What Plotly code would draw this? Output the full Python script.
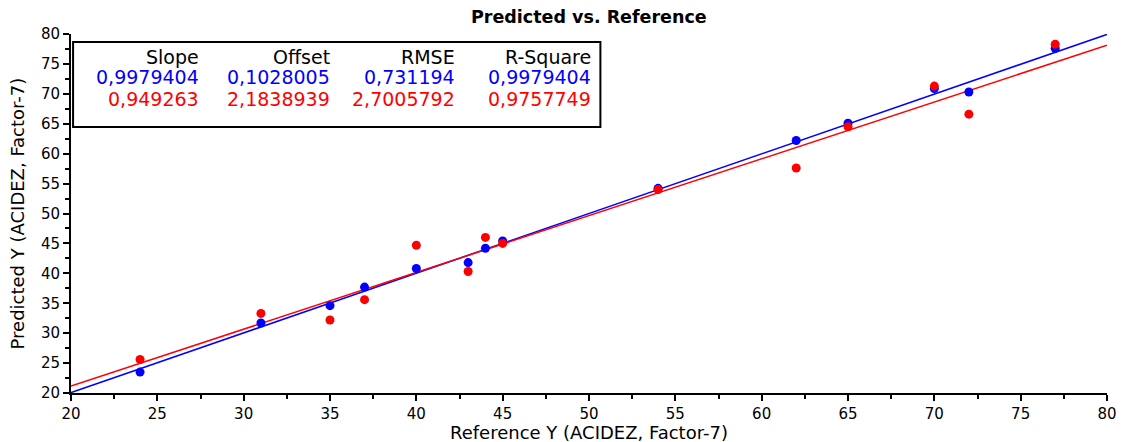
import plotly.graph_objects as go

reference = [24, 31, 35, 37, 40, 43, 44, 45, 54, 62, 65, 70, 72, 77]
pred_blue = [23.5, 31.7, 34.6, 37.7, 40.8, 41.8, 44.2, 45.4, 54.2, 62.2, 65.1, 70.9, 70.3, 77.6]
pred_red = [25.6, 33.3, 32.2, 35.6, 44.7, 40.3, 46.0, 45.0, 54.0, 57.6, 64.5, 71.3, 66.6, 78.3]

stats_header = ["Slope", "Offset", "RMSE", "R-Square"]
stats_blue = ["0,9979404", "0,1028005", "0,731194", "0,9979404"]
stats_red = ["0,949263", "2,1838939", "2,7005792", "0,9757749"]
slope_blue, offset_blue = 0.9979404, 0.1028005
slope_red, offset_red = 0.949263, 2.1838939

title_text = "Predicted vs. Reference"
x_title = "Reference Y (ACIDEZ, Factor-7)"
y_title = "Predicted Y (ACIDEZ, Factor-7)"

x_range = [20, 80]
y_range = [20, 80]

BLUE = "#0000ff"
RED = "#ff0000"
FONT = "DejaVu Sans, Verdana, sans-serif"

fig = go.Figure()
fig.add_trace(go.Scatter(x=x_range, y=[slope_blue * v + offset_blue for v in x_range],
                         mode="lines", line=dict(color=BLUE, width=1.5), showlegend=False))
fig.add_trace(go.Scatter(x=x_range, y=[slope_red * v + offset_red for v in x_range],
                         mode="lines", line=dict(color=RED, width=1.5), showlegend=False))
fig.add_trace(go.Scatter(x=reference, y=pred_blue, mode="markers",
                         marker=dict(color=BLUE, size=9), showlegend=False))
fig.add_trace(go.Scatter(x=reference, y=pred_red, mode="markers",
                         marker=dict(color=RED, size=9), showlegend=False))

col_x = [0.1236, 0.25, 0.3707, 0.5019]
row_y = [0.936, 0.880, 0.819]
row_colors = ["black", BLUE, RED]
annotations = []
for r, (row, col) in enumerate(zip([stats_header, stats_blue, stats_red], row_colors)):
    for c, txt in enumerate(row):
        annotations.append(dict(x=col_x[c], y=row_y[r], xref="paper", yref="paper",
                                text=txt, showarrow=False, xanchor="right", yanchor="middle",
                                xshift=2,
                                font=dict(family=FONT, size=19, color=col)))

# title and axis titles as annotations for precise placement
annotations.append(dict(x=0.5, y=(393 - 17) / 359, xref="paper", yref="paper",
                        text="<b>" + title_text + "</b>",
                        showarrow=False, xanchor="center", yanchor="middle",
                        font=dict(family=FONT, size=17.5, color="black")))
annotations.append(dict(x=0.5, y=-0.1114, xref="paper", yref="paper", text=x_title,
                        showarrow=False, xanchor="center", yanchor="middle",
                        font=dict(family=FONT, size=18, color="black")))
annotations.append(dict(x=-0.0512, y=0.5, xref="paper", yref="paper", text=y_title,
                        showarrow=False, xanchor="center", yanchor="middle", textangle=-90,
                        font=dict(family=FONT, size=18, color="black")))

axis_common = dict(showgrid=False, zeroline=False, showline=True, linecolor="black", linewidth=2,
                   ticks="outside", ticklen=6, tickwidth=2, tickcolor="black", dtick=5,
                   automargin=False,
                   tickfont=dict(family=FONT, size=15, color="black"),
                   minor=dict(ticks="outside", ticklen=4, tickwidth=1.5, tickcolor="black", dtick=2.5))

fig.update_layout(
    width=1110, height=434,
    margin=dict(l=63, r=11, t=26, b=49),
    plot_bgcolor="white", paper_bgcolor="white",
    xaxis=dict(range=x_range, **axis_common),
    yaxis=dict(range=y_range, **axis_common),
    shapes=[dict(type="rect", xref="paper", yref="paper", x0=0.002, x1=0.511, y0=0.741, y1=0.978,
                 line=dict(color="black", width=2), fillcolor="white", layer="above")],
    annotations=annotations,
)

fig.write_html("out.html")
